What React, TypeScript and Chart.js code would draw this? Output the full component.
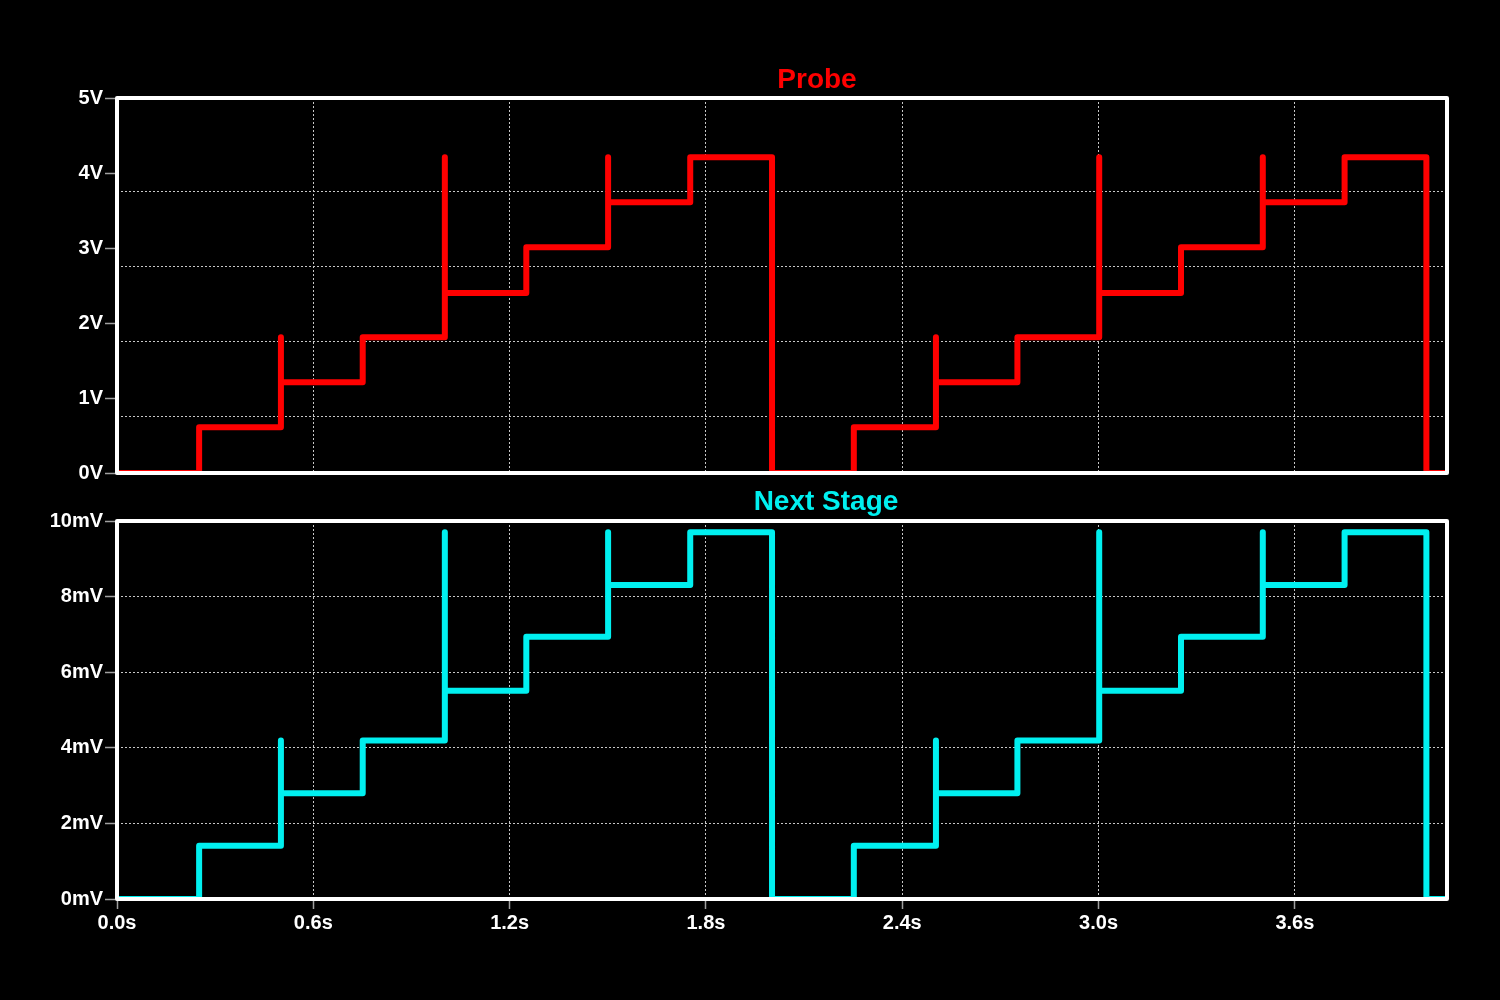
import { useEffect, useRef } from "react";
import { Chart, registerables } from "chart.js";

Chart.register(...registerables);

// ---- data ----
const tStart = 0;
const tEnd = 4.065;
const edgeTimes = [0.251, 0.501, 0.751, 1.002, 1.251, 1.501, 1.752, 2.002, 2.252, 2.503, 2.752, 3.002, 3.252, 3.502, 3.752, 4.002];
const probeLevels = [0.61, 1.21, 1.81, 2.4, 3.01, 3.61, 4.21, 0, 0.61, 1.21, 1.81, 2.4, 3.01, 3.61, 4.21, 0];
const probeSpikes: (number | null)[] = [null, 1.81, null, 4.21, null, 4.21, null, null, null, 1.81, null, 4.21, null, 4.21, null, null];
const nextLevels = [1.41, 2.8, 4.19, 5.51, 6.94, 8.31, 9.7, 0, 1.41, 2.8, 4.19, 5.51, 6.94, 8.31, 9.7, 0];
const nextSpikes: (number | null)[] = [null, 4.19, null, 9.7, null, 9.7, null, null, null, 4.19, null, 9.7, null, 9.7, null, null];
const timeTicks = [0, 0.6, 1.2, 1.8, 2.4, 3.0, 3.6];
const probeTicks = [0, 1, 2, 3, 4, 5];
const probeGrid = [0.75, 1.75, 2.75, 3.75];
const nextTicks = [0, 2, 4, 6, 8, 10];

const FONT = "'Liberation Sans', Arial, Helvetica, sans-serif";
const GRID = "#c8c8c8";
const TICK = "#a0a0a0";

function buildSteps(levels: number[], spikes: (number | null)[]) {
  const pts: { x: number; y: number }[] = [{ x: tStart, y: 0 }];
  let prev = 0;
  edgeTimes.forEach((t, i) => {
    pts.push({ x: t, y: prev });
    const s = spikes[i];
    if (s !== null && s !== undefined) pts.push({ x: t, y: s });
    pts.push({ x: t, y: levels[i] });
    prev = levels[i];
  });
  pts.push({ x: tEnd, y: prev });
  return pts;
}

const framePlugin = {
  id: "frame",
  afterDatasetsDraw(chart: any) {
    const { ctx, chartArea } = chart;
    ctx.save();
    ctx.strokeStyle = "#ffffff";
    ctx.lineWidth = 4;
    ctx.lineJoin = "round";
    ctx.strokeRect(chartArea.left, chartArea.top, chartArea.right - chartArea.left, chartArea.bottom - chartArea.top);
    ctx.restore();
  },
};

const titlePlugin = {
  id: "panelTitle",
  afterDraw(chart: any, _args: any, opts: any) {
    const { ctx, chartArea } = chart;
    ctx.save();
    ctx.fillStyle = opts.color;
    ctx.font = `bold 28px ${FONT}`;
    ctx.textAlign = "center";
    ctx.textBaseline = "alphabetic";
    ctx.fillText(opts.text, (chartArea.left + chartArea.right) / 2 + opts.dx, chartArea.top - opts.dy);
    ctx.restore();
  },
};

function makeConfig(
  pts: { x: number; y: number }[],
  color: string,
  yMax: number,
  yTicks: number[],
  yGrid: number[] | null,
  unit: string,
  showX: boolean,
  pad: { top: number; bottom: number },
  title: { text: string; color: string; dx: number; dy: number }
): any {
  const tickFont = { family: FONT, size: 20, weight: "bold" as const };
  const scales: any = {
    x: {
      type: "linear",
      min: tStart,
      max: tEnd,
      afterBuildTicks: (s: any) => {
        s.ticks = timeTicks.map((v) => ({ value: v }));
      },
      ticks: {
        display: showX,
        color: "#ffffff",
        font: tickFont,
        padding: 2,
        maxRotation: 0,
        autoSkip: false,
        callback: (v: any) => Number(v).toFixed(1) + "s",
      },
      grid: {
        color: GRID,
        lineWidth: 1,
        drawTicks: showX,
        tickLength: 10,
        tickColor: TICK,
        tickWidth: 1.5,
        tickBorderDash: [],
      },
      border: { display: false, dash: [2, 2] },
      afterFit: (s: any) => {
        s.height = showX ? 60 : 0;
      },
    },
    y: {
      type: "linear",
      position: "left",
      min: 0,
      max: yMax,
      afterBuildTicks: (s: any) => {
        s.ticks = yTicks.map((v) => ({ value: v }));
      },
      ticks: {
        color: "#ffffff",
        font: tickFont,
        padding: 2,
        callback: (v: any) => v + unit,
      },
      grid: {
        drawOnChartArea: yGrid === null,
        color: GRID,
        lineWidth: 1,
        drawTicks: true,
        tickLength: 12,
        tickColor: TICK,
        tickWidth: 1.5,
        tickBorderDash: [],
      },
      border: { display: false, dash: [2, 2] },
      afterFit: (s: any) => {
        s.width = 117;
      },
    },
  };
  if (yGrid) {
    scales.yGrid = {
      type: "linear",
      position: "left",
      min: 0,
      max: yMax,
      afterBuildTicks: (s: any) => {
        s.ticks = yGrid.map((v) => ({ value: v }));
      },
      ticks: { display: false },
      grid: { color: GRID, lineWidth: 1, drawTicks: false },
      border: { display: false, dash: [2, 2] },
      afterFit: (s: any) => {
        s.width = 0;
      },
    };
  }
  return {
    type: "line",
    data: {
      datasets: [
        {
          data: pts,
          borderColor: color,
          borderWidth: 6,
          pointRadius: 0,
          fill: false,
          tension: 0,
          borderJoinStyle: "round",
          borderCapStyle: "round",
          clip: 0,
        },
      ],
    },
    options: {
      animation: false,
      responsive: false,
      maintainAspectRatio: false,
      devicePixelRatio: 1,
      layout: { padding: { left: 0, right: 53, top: pad.top, bottom: pad.bottom } },
      plugins: {
        legend: { display: false },
        tooltip: { enabled: false },
        title: { display: false },
        panelTitle: title,
      },
      scales,
    },
    plugins: [framePlugin, titlePlugin],
  };
}

export default function App() {
  const topRef = useRef<HTMLCanvasElement>(null);
  const botRef = useRef<HTMLCanvasElement>(null);

  useEffect(() => {
    const top = new Chart(
      topRef.current!,
      makeConfig(
        buildSteps(probeLevels, probeSpikes),
        "#ff0000",
        5,
        probeTicks,
        probeGrid,
        "V",
        false,
        { top: 98, bottom: 527 },
        { text: "Probe", color: "#ff0000", dx: 35, dy: 10 }
      )
    );
    const bot = new Chart(
      botRef.current!,
      makeConfig(
        buildSteps(nextLevels, nextSpikes),
        "#00f0f0",
        10,
        nextTicks,
        null,
        "mV",
        true,
        { top: 521, bottom: 41 },
        { text: "Next Stage", color: "#00f0f0", dx: 44, dy: 11 }
      )
    );
    return () => {
      top.destroy();
      bot.destroy();
    };
  }, []);

  const canvasStyle: any = { position: "absolute", left: 0, top: 0, width: 1500, height: 1000 };
  return (
    <div style={{ position: "fixed", left: 0, top: 0, width: 1500, height: 1000, background: "#000000" }}>
      <canvas ref={topRef} width={1500} height={1000} style={canvasStyle} />
      <canvas ref={botRef} width={1500} height={1000} style={canvasStyle} />
    </div>
  );
}
